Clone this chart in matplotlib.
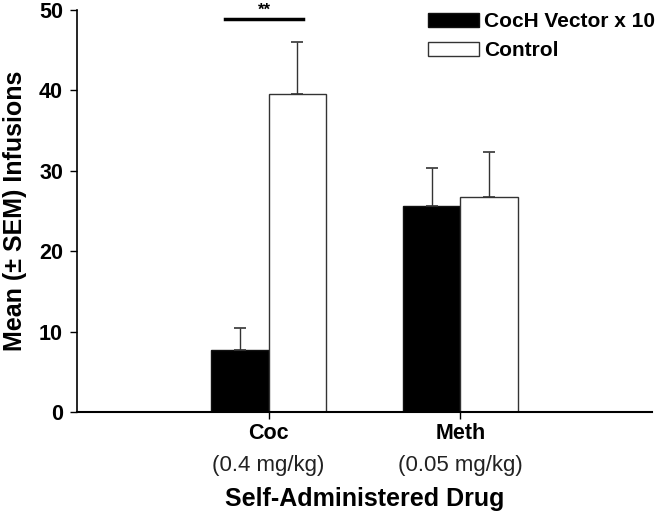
import matplotlib
matplotlib.use('Agg')
import matplotlib.pyplot as plt
import numpy as np

plt.rcParams['font.family'] = ['Liberation Sans', 'DejaVu Sans']

drugs = ['Coc', 'Meth']
doses = ['(0.4 mg/kg)', '(0.05 mg/kg)']
coch = [7.7, 25.6]
coch_sem = [2.8, 4.8]
control = [39.5, 26.7]
control_sem = [6.5, 5.7]

fig = plt.figure(figsize=(6.67, 5.13), dpi=100)
ax = fig.add_axes([0.1154, 0.1969, 0.862, 0.7836])

x = np.array([1, 2])
w = 0.3
ax.bar(x - w/2, coch, w, color='black', edgecolor='#111111', linewidth=1, label='CocH Vector x 10')
ax.bar(x + w/2, control, w, color='white', edgecolor='#333333', linewidth=1, label='Control')
ax.errorbar(x - w/2, coch, yerr=[np.zeros(2), coch_sem], fmt='none', ecolor='#333333', elinewidth=1, capsize=4.3, capthick=1.2)
ax.errorbar(x + w/2, control, yerr=[np.zeros(2), control_sem], fmt='none', ecolor='#333333', elinewidth=1, capsize=4.3, capthick=1.2)

# significance bar
ax.plot([0.771, 1.177], [48.9, 48.9], color='black', lw=2.5, clip_on=False)
ax.text(0.98, 50.0, '**', ha='center', va='center', fontsize=12, fontweight='bold', clip_on=False)

ax.set_xlim(0, 3)
ax.set_ylim(0, 50)
ax.set_yticks([0, 10, 20, 30, 40, 50])
ax.set_xticks(x)
ax.set_xticklabels(drugs, fontsize=15.5, fontweight='bold')
for xi, d in zip(x, doses):
    ax.text(xi, -0.148, d, transform=ax.get_xaxis_transform(), ha='center', va='baseline', fontsize=16, color='#222222')
ax.tick_params(axis='x', direction='out', length=5, width=1, pad=3)
ax.tick_params(axis='y', direction='out', length=5, width=1, pad=5, labelsize=15.5)
for lab in ax.get_yticklabels():
    lab.set_fontweight('bold')
ax.spines['top'].set_visible(False)
ax.spines['right'].set_visible(False)
ax.spines['left'].set_linewidth(1.2)
ax.spines['bottom'].set_linewidth(1.5)

ax.set_ylabel('Mean (\u00b1 SEM) Infusions', fontsize=18, fontweight='bold')
ax.yaxis.set_label_coords(-0.108, 0.5)
ax.set_xlabel('Self-Administered Drug', fontsize=18, fontweight='bold')
ax.xaxis.set_label_coords(0.5, -0.233)
ax.xaxis.label.set_va('baseline')
ax.yaxis.label.set_va('center')

ax.legend(loc='upper left', bbox_to_anchor=(428/667, 1 - 12/513), bbox_transform=fig.transFigure,
          frameon=False, prop={'weight': 'bold', 'size': 15}, borderpad=0, borderaxespad=0,
          handlelength=2.45, handleheight=0.65, handletextpad=0.25, labelspacing=0.5)

fig.savefig('out.png', dpi=100)
